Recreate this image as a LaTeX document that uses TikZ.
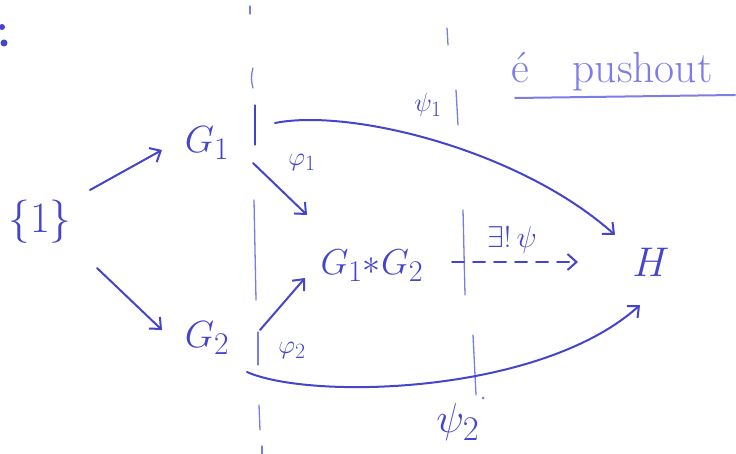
\documentclass[tikz,border=0pt]{standalone}
\usetikzlibrary{arrows.meta,calc}
\definecolor{ink}{RGB}{68,68,205}
\definecolor{inklight}{RGB}{125,125,232}
\definecolor{faint}{RGB}{120,125,225}
\tikzset{
  lbl/.style={text=ink,inner sep=1pt,font=\Huge,scale=1.45},
  small/.style={text=ink,inner sep=1pt,font=\Huge,scale=1.05},
  arr/.style={draw=ink,line width=2pt,line cap=round,-{Straight Barb[length=9pt,width=16pt,line width=2pt]}},
  dasharr/.style={arr,dash pattern=on 12pt off 9pt},
  faintline/.style={draw=faint,line width=1.3pt,line cap=round},
}
\begin{document}
\begin{tikzpicture}[x=1pt,y=-1pt]
\useasboundingbox (0,0) rectangle (736,454);
% faint marks
\fill[ink] (2,27) circle (3);
\fill[ink] (4,43) circle (3.5);
\draw[faintline] (250,6) -- (250,14);
\draw[faintline] (253,68) to[bend right=15] (253,88);
\draw[faintline,draw=ink] (255,105) -- (255,145);
\draw[faintline] (254,200) -- (256,300);
\draw[faintline] (258,332) -- (258,365);
\draw[faintline] (259,405) -- (260,430);
\draw[faintline] (262,446) -- (262,454);
\draw[faintline] (447,28) -- (448,45);
\draw[faintline] (456,90) -- (458,125);
\draw[faintline] (463,210) -- (465,295);
\draw[faintline] (473,335) -- (476,395);
\fill[faint] (483,398) circle (1.5);
% nodes
\node[lbl,scale=1.2] (one) at (40,222) {$\{1\}$};
\node[lbl,scale=1.05] (G1) at (207,143) {$G_1$};
\node[lbl,scale=1.05] (G2) at (207,338) {$G_2$};
\node[lbl] (F) at (372,266) {$G_1{\ast}G_2$};
\node[lbl,scale=1.15] (H) at (651,262) {$H$};
% arrows
\draw[arr] ($(one)+(50,-32)$) -- ($(G1)+(-45,7)$);
\draw[arr] ($(one)+(57,46)$) -- ($(G2)+(-45,-8)$);
\draw[arr] ($(G1)+(46,20)$) -- ($(F)+(-65,-51)$);
\draw[arr] ($(G2)+(53,-8)$) -- ($(F)+(-67,12)$);
\draw[arr] ($(G1)+(68,-20)$) .. controls (350,108) and (520,150) .. ($(H)+(-36,-27)$);
\draw[arr] ($(G2)+(40,34)$) .. controls (310,400) and (540,395) .. ($(H)+(-11,43)$);
\draw[dasharr] ($(F)+(80,-4)$) -- ($(H)+(-73,0)$);
% labels
\node[small] (phi1) at (302,162) {$\varphi_1$};
\node[small] (phi2) at (292,350) {$\varphi_2$};
\node[small] (psi1) at (428,105) {$\psi_1$};
\node[lbl,scale=1.15] (psi2) at (458,422) {$\psi_2$};
\node[small,scale=1.15] (ex) at (512,240) {$\exists!\,\psi$};
\node[text=inklight,inner sep=0pt,font=\Huge,scale=1.75] (po) at (612,72) {\'e\quad pushout};
\draw[draw=inklight,line width=2pt,line cap=round] (515,98) -- (735,95);
\end{tikzpicture}
\end{document}
